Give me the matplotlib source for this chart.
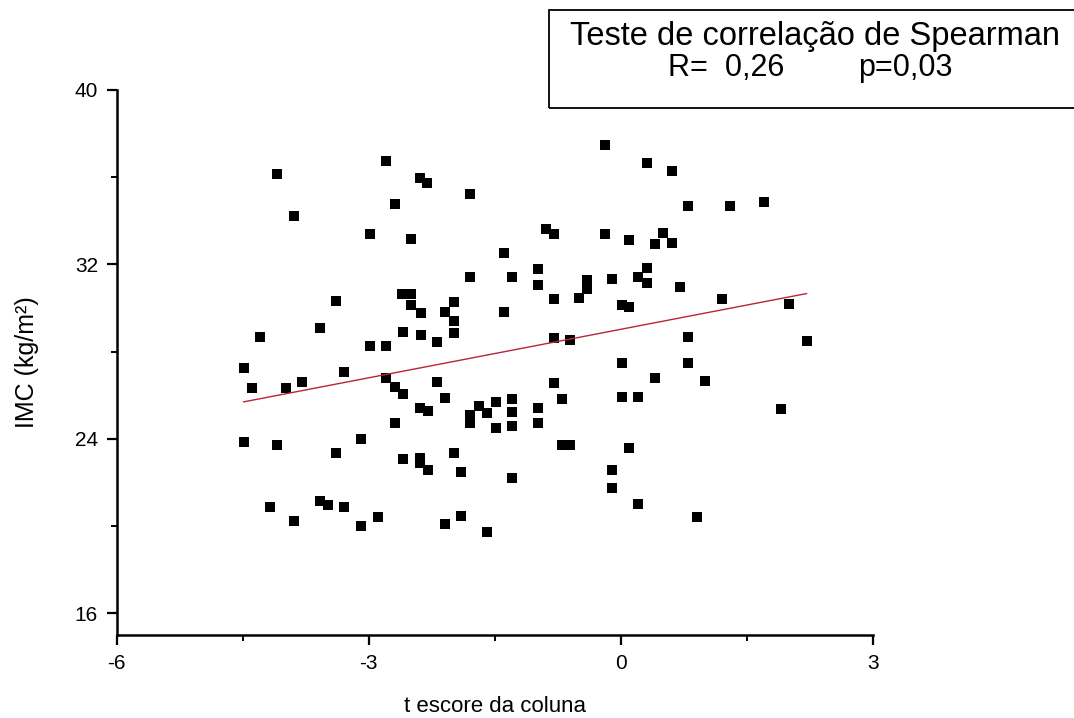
import numpy as np
import matplotlib
matplotlib.use("Agg")
import matplotlib.pyplot as plt
from matplotlib.patches import Rectangle
from matplotlib.ticker import MultipleLocator

plt.rcParams['font.family'] = ['Liberation Sans', 'DejaVu Sans']
plt.rcParams['axes.unicode_minus'] = False

# t escore da coluna vs IMC
t_score = [
    -4.09, -3.89, -2.79, -2.39, -2.31, -2.69, -2.99, -2.50, -1.79, -3.39,
    -3.58, -4.29, -2.60, -2.50, -2.50, -2.38, -2.59, -2.38, -0.19, -0.89,
    -0.80, -0.19, 0.10, -1.39, -1.79, -1.29, -0.99, -0.99, -0.80, -0.50,
    -0.40, -0.40, -0.10, 0.01, 0.10, -1.99, -2.09, -1.99, -1.99, -2.19,
    -1.39, -0.80, -0.60, 0.31, 0.61, 0.80, 1.30, 1.70, 0.50, 0.41,
    0.61, 0.31, 0.20, 0.31, 0.70, 1.20, 2.00, 0.80, 2.21, -2.99,
    -2.79, -4.49, -4.39, -3.98, -3.79, -3.29, -2.79, -2.69, -2.59, -2.39,
    -2.30, -2.69, -4.49, -4.09, -3.39, -3.09, -2.59, -2.39, -2.39, -2.30,
    -4.18, -3.89, -3.58, -3.49, -3.29, -3.09, -2.89, 0.01, -2.19, -2.09,
    -1.79, -1.69, -1.59, -1.79, -1.49, -1.49, -1.29, -1.29, -1.29, -0.99,
    -0.99, -0.80, -0.70, -0.70, -0.60, 0.01, 0.10, -1.99, -1.90, -1.29,
    -0.10, -0.10, -2.09, -1.90, -1.59, 0.80, 0.41, 1.00, 0.20, 1.90,
    0.20, 0.91,
]
imc = [
    36.13, 34.23, 36.74, 35.98, 35.72, 34.76, 33.41, 33.17, 35.22, 30.33,
    29.10, 28.67, 30.64, 30.64, 30.14, 29.78, 28.91, 28.76, 37.48, 33.62,
    33.38, 33.38, 33.12, 32.54, 31.44, 31.44, 31.78, 31.06, 30.40, 30.44,
    31.28, 30.87, 31.32, 30.14, 30.06, 30.29, 29.83, 29.42, 28.84, 28.44,
    29.83, 28.61, 28.51, 36.67, 36.30, 34.69, 34.69, 34.85, 33.43, 32.92,
    32.97, 31.85, 31.44, 31.16, 30.95, 30.40, 30.18, 28.65, 28.49, 28.27,
    28.27, 27.26, 26.34, 26.34, 26.59, 27.05, 26.78, 26.39, 26.04, 25.43,
    25.28, 24.74, 23.87, 23.72, 23.36, 23.98, 23.06, 23.13, 22.89, 22.59,
    20.89, 20.24, 21.16, 20.96, 20.89, 20.01, 20.43, 27.46, 26.62, 25.89,
    25.09, 25.52, 25.17, 24.71, 25.70, 24.48, 25.83, 25.24, 24.60, 25.43,
    24.74, 26.55, 25.83, 23.72, 23.72, 25.93, 23.56, 23.36, 22.49, 22.22,
    22.57, 21.73, 20.08, 20.47, 19.71, 27.46, 26.80, 26.65, 25.93, 25.37,
    21.00, 20.40,
]

x_ticks = [-6, -3, 0, 3]
y_ticks = [16, 24, 32, 40]

x = np.array(t_score)
y = np.array(imc)

fig = plt.figure(figsize=(10.74, 7.18), dpi=100)
ax = fig.add_axes([0.1087, 0.1156, 0.7041, 0.7591])

ax.plot(x, y, "s", color="black", markersize=7.6, markeredgewidth=0)

# linear fit over the data range
slope, intercept = np.polyfit(x, y, 1)
xf = np.array([x.min(), x.max()])
ax.plot(xf, intercept + slope * xf, color="#b8263a", linewidth=1.0)

ax.set_xlim(-6, 3)
ax.set_ylim(15, 40)
ax.set_xticks(x_ticks)
ax.set_yticks(y_ticks)
ax.xaxis.set_minor_locator(MultipleLocator(1.5))
ax.yaxis.set_minor_locator(MultipleLocator(4))

for side in ["top", "right"]:
    ax.spines[side].set_visible(False)
for side in ["left", "bottom"]:
    ax.spines[side].set_linewidth(1.8)

ax.tick_params(which="major", direction="out", length=7.5, width=1.6,
               labelsize=15, pad=6)
ax.tick_params(which="minor", direction="out", length=4.5, width=1.4)

ax.set_xlabel("t escore da coluna", fontsize=16, labelpad=17)
ax.set_ylabel("IMC (kg/m²)", fontsize=18, labelpad=26)

# annotation box with the correlation result
fig.patches.append(Rectangle((0.5112, 0.8496), 0.52, 0.1365,
                             transform=fig.transFigure, fill=False,
                             edgecolor="black", linewidth=1.3))
fig.text(0.7588, 0.9373, "Teste de correlação de Spearman",
         ha="center", va="baseline", fontsize=23.5)
fig.text(0.622, 0.8935, "R=  0,26", ha="left", va="baseline", fontsize=22)
fig.text(0.7989, 0.8935, "p=0,03", ha="left", va="baseline", fontsize=22)

fig.savefig("out.png", dpi=100)
